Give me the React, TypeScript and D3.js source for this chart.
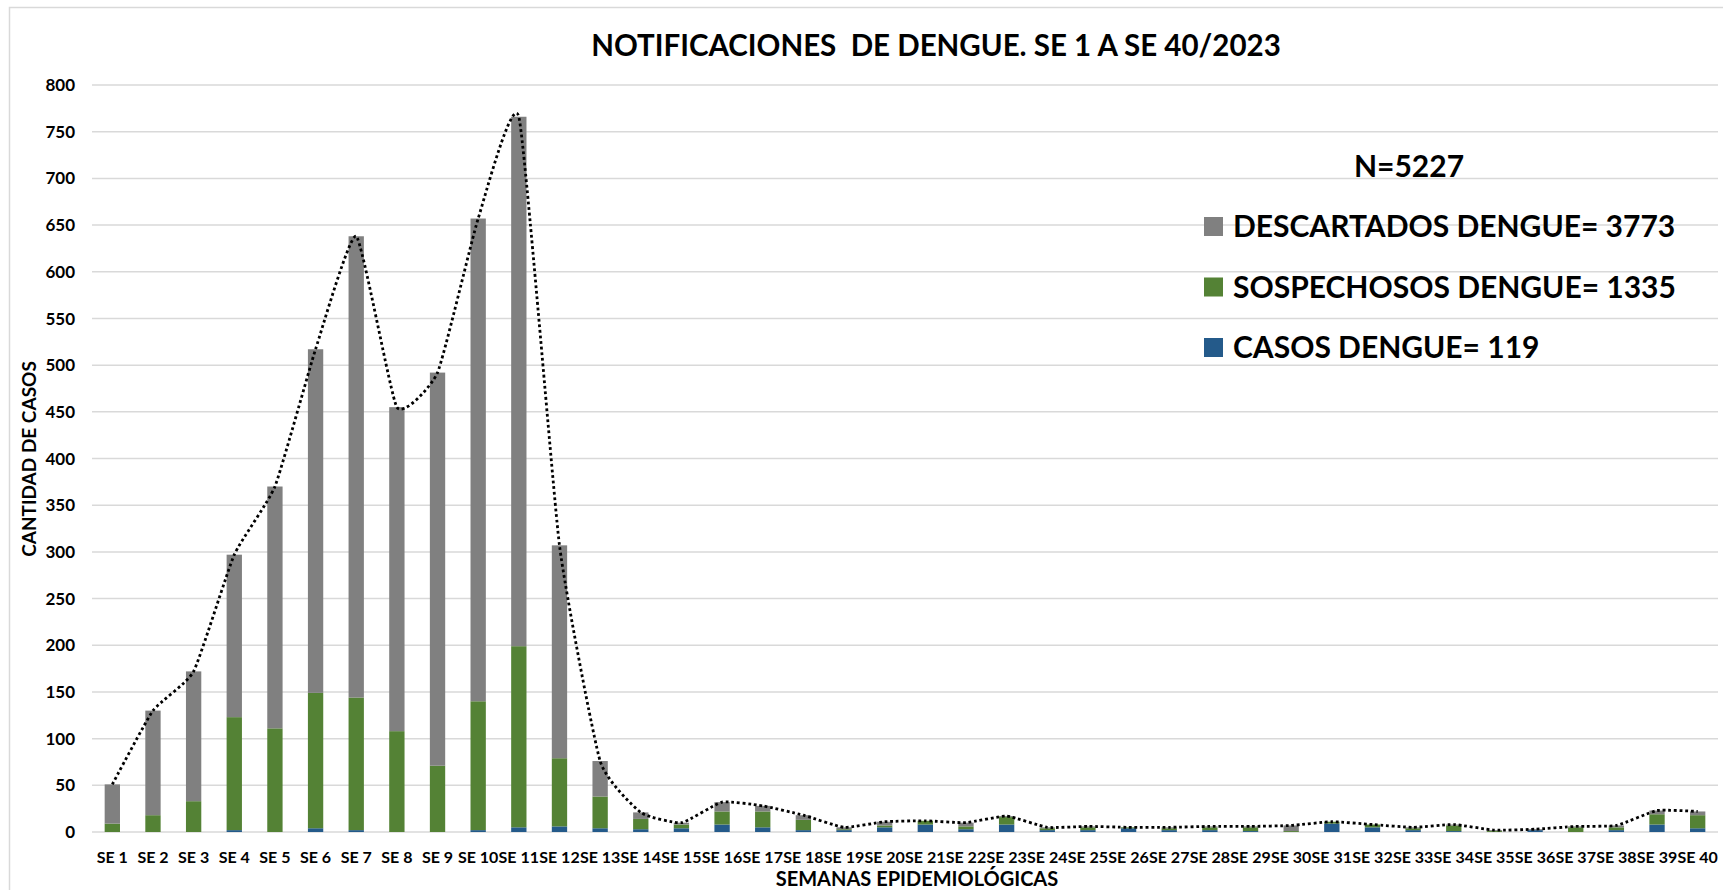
import React from "react";
import * as d3 from "d3";

const semanas = Array.from({ length: 40 }, (_, i) => `SE ${i + 1}`);
const casos = [0, 0, 0, 2, 0, 4, 2, 0, 0, 2, 5, 6, 4, 3, 4, 8, 5, 2, 2, 5, 8, 3, 8, 2, 2, 4, 2, 2, 1, 0, 9, 5, 2, 1, 0, 2, 0, 2, 8, 4];
const sospechosos = [9, 18, 33, 121, 111, 145, 142, 108, 71, 138, 194, 73, 34, 11, 4, 14, 17, 11, 1, 2, 4, 3, 8, 2, 3, 1, 2, 3, 4, 1, 2, 3, 2, 6, 1, 0, 5, 3, 11, 14];
const descartados = [42, 112, 139, 174, 259, 368, 494, 347, 421, 517, 567, 228, 38, 7, 2, 10, 6, 5, 2, 4, 0, 4, 1, 1, 1, 0, 1, 1, 1, 6, 0, 0, 1, 1, 1, 1, 1, 2, 4, 4];
const yTicks = [0, 50, 100, 150, 200, 250, 300, 350, 400, 450, 500, 550, 600, 650, 700, 750, 800];
const legendItems = [
  { key: "descartados", label: "DESCARTADOS DENGUE= 3773" },
  { key: "sospechosos", label: "SOSPECHOSOS DENGUE= 1335" },
  { key: "casos", label: "CASOS DENGUE= 119" },
];
const titleText = "NOTIFICACIONES\u00a0\u00a0DE DENGUE. SE 1 A SE 40/2023";

const colors: Record<string, string> = {
  casos: "#245a8a",
  sospechosos: "#548235",
  descartados: "#808080",
};

const W = 1723;
const H = 890;
const FONT = "Lato, 'Open Sans', sans-serif";

export default function App() {
  const rows = semanas.map((s, i) => ({
    semana: s,
    casos: casos[i],
    sospechosos: sospechosos[i],
    descartados: descartados[i],
  }));
  const x = d3.scaleBand<string>().domain(semanas).range([92, 1718]).paddingInner(0.623).paddingOuter(0.3115);
  const y = d3.scaleLinear().domain([0, 800]).range([832, 85]);
  const stack = d3.stack<any>().keys(["casos", "sospechosos", "descartados"]);
  const series = stack(rows);
  const totals = rows.map((r) => r.casos + r.sospechosos + r.descartados);
  const line = d3
    .line<number>()
    .x((_, i) => (x(semanas[i]) as number) + x.bandwidth() / 2)
    .y((d) => y(d))
    .curve(d3.curveCardinal.tension(0.55));

  return (
    <svg width={W} height={H} style={{ position: "absolute", left: 0, top: 0, background: "#fff" }} fontFamily={FONT}>
      <rect x={9.5} y={7.5} width={1800} height={1000} fill="#fff" stroke="#d9d9d9" strokeWidth={1.5} />
      {yTicks.map((t) => (
        <g key={t}>
          <line x1={92} x2={1718} y1={y(t)} y2={y(t)} stroke="#d9d9d9" strokeWidth={1.5} />
          <text x={75} y={y(t)} dy="0.36em" textAnchor="end" fontSize={17} fontWeight={700} fill="#000">
            {t}
          </text>
        </g>
      ))}
      {series.map((s) => (
        <g key={s.key} fill={colors[s.key]}>
          {s.map((d, i) => (
            <rect
              key={i}
              x={x(semanas[i])}
              width={x.bandwidth()}
              y={y(d[1])}
              height={Math.max(0, y(d[0]) - y(d[1]))}
            />
          ))}
        </g>
      ))}
      <path d={line(totals) || ""} fill="none" stroke="#000" strokeWidth={2.8} strokeDasharray="2.8 2.8" />
      {semanas.map((s) => (
        <text key={s} x={(x(s) as number) + x.bandwidth() / 2} y={863} textAnchor="middle" fontSize={16} fontWeight={700} fill="#000">
          {s}
        </text>
      ))}
      <text x={917} y={886} textAnchor="middle" fontSize={20} fontWeight={700} fill="#000">
        SEMANAS EPIDEMIOLÓGICAS
      </text>
      <text transform="translate(36,459) rotate(-90)" textAnchor="middle" fontSize={19} fontWeight={700} fill="#000">
        CANTIDAD DE CASOS
      </text>
      <text x={936} y={56} textAnchor="middle" fontSize={29.5} fontWeight={700} fill="#000">
        {titleText}
      </text>
      <text x={1409} y={177} textAnchor="middle" fontSize={30} fontWeight={700} fill="#000">
        N=5227
      </text>
      {legendItems.map((it, i) => (
        <g key={it.key}>
          <rect x={1204} y={217 + i * 60.5} width={19} height={19} fill={colors[it.key]} />
          <text x={1233} y={237 + i * 60.5} fontSize={30} fontWeight={700} fill="#000">
            {it.label}
          </text>
        </g>
      ))}
    </svg>
  );
}
